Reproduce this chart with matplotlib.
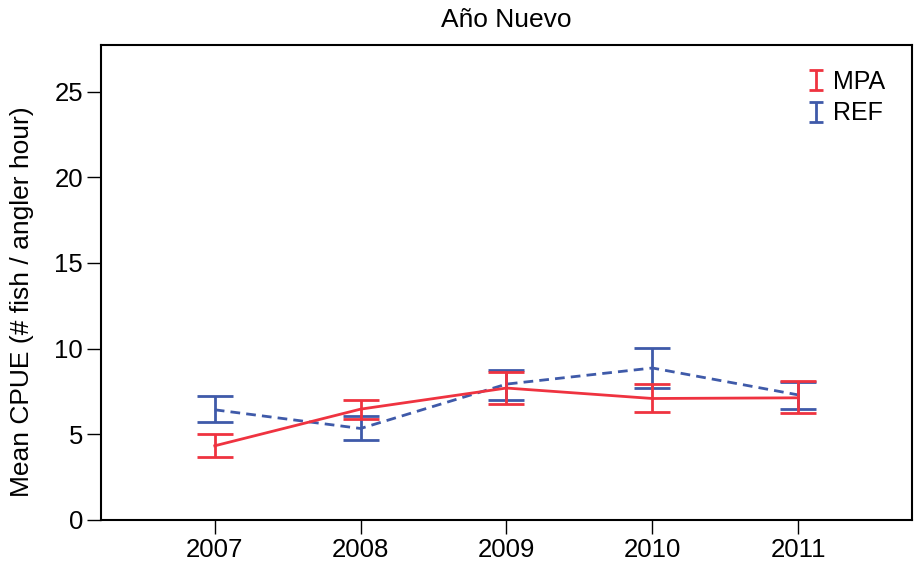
import matplotlib
matplotlib.use("Agg")
import matplotlib.pyplot as plt
from matplotlib.lines import Line2D
from matplotlib.path import Path

plt.rcParams['font.family'] = ['Liberation Sans', 'DejaVu Sans']

years = [2007, 2008, 2009, 2010, 2011]

# MPA: mean and 95% CI bounds
mpa_mean = [4.33, 6.47, 7.70, 7.09, 7.13]
mpa_low = [3.70, 5.92, 6.76, 6.32, 6.24]
mpa_high = [5.01, 7.02, 8.61, 7.93, 8.09]

# REF
ref_mean = [6.43, 5.34, 7.93, 8.87, 7.30]
ref_low = [5.69, 4.68, 7.00, 7.72, 6.49]
ref_high = [7.25, 6.08, 8.75, 10.04, 8.05]

red = '#ef3340'
blue = '#3f5aa9'

fig = plt.figure(figsize=(9.15, 5.66), dpi=100)
ax = fig.add_axes([0.1104, 0.0813, 0.8863, 0.8392])

def draw(mean, low, high, color, ls):
    yerr = [[m - l for m, l in zip(mean, low)], [h - m for m, h in zip(mean, high)]]
    ax.errorbar(years, mean, yerr=yerr, fmt='none', ecolor=color,
                elinewidth=2, capsize=13, capthick=2)
    line, = ax.plot(years, mean, color=color, lw=2, ls=ls)
    if ls == '--':
        line.set_dashes([3.5, 2.2])

draw(ref_mean, ref_low, ref_high, blue, '--')
draw(mpa_mean, mpa_low, mpa_high, red, '-')

ax.set_xlim(2006.22, 2011.78)
ax.set_ylim(0, 27.72)
ax.set_xticks(years)
ax.set_xticklabels([str(y) for y in years])
ax.set_yticks([0, 5, 10, 15, 20, 25])
ax.tick_params(direction='out', length=10, width=1, labelsize=18.5, pad=3)
for s in ax.spines.values():
    s.set_linewidth(1.5)

ax.set_ylabel('Mean CPUE (# fish / angler hour)', fontsize=19)
ax.yaxis.set_label_coords(-0.083, 0.46)
ax.set_title('Año Nuevo', fontsize=19, pad=13)

# I-shaped marker for the legend (error bar glyph)
ibar = Path([(-0.35, 0.5), (0.35, 0.5), (0, 0.5), (0, -0.5), (-0.35, -0.5), (0.35, -0.5)],
            [Path.MOVETO, Path.LINETO, Path.MOVETO, Path.LINETO, Path.MOVETO, Path.LINETO])
handles = [
    Line2D([], [], ls='none', marker=ibar, color=red, markersize=14,
           markeredgewidth=2, markerfacecolor='none'),
    Line2D([], [], ls='none', marker=ibar, color=blue, markersize=14,
           markeredgewidth=2, markerfacecolor='none'),
]
ax.legend(handles, ['MPA', 'REF'], loc='upper right', frameon=False,
          fontsize=18, handlelength=0.6, handletextpad=0.4, labelspacing=0.3,
          bbox_to_anchor=(0.995, 0.995))

fig.savefig('out.png', dpi=100)
